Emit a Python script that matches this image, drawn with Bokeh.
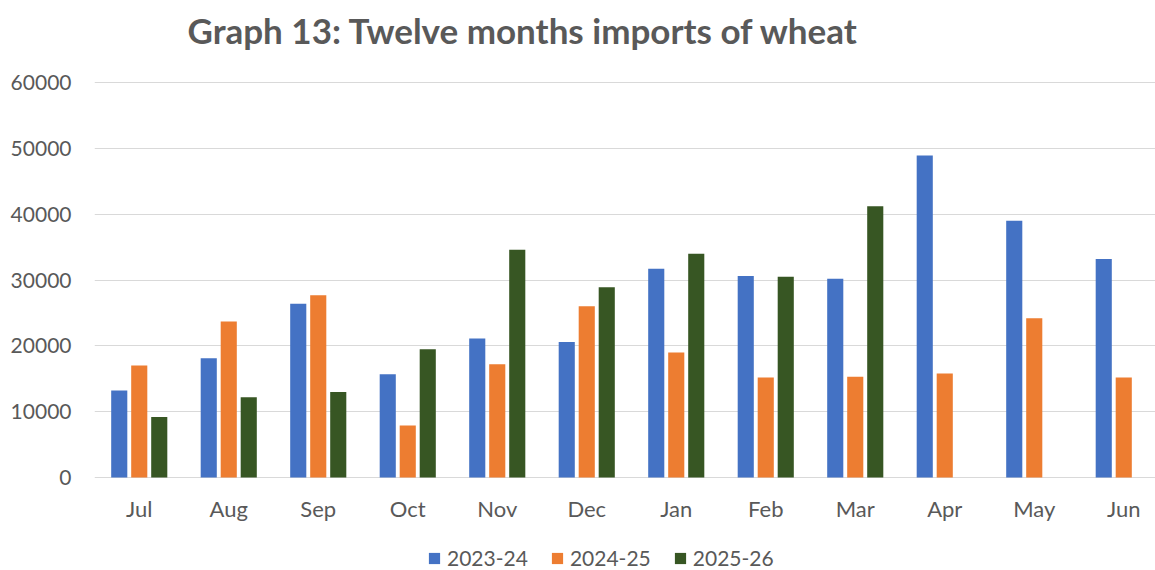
from bokeh.plotting import figure
from bokeh.models import ColumnDataSource, Range1d, FixedTicker, Legend, LegendItem
from bokeh.core.properties import value
from bokeh.transform import dodge
from bokeh.embed import file_html
from bokeh.resources import INLINE

# ---- data ----
months = ["Jul", "Aug", "Sep", "Oct", "Nov", "Dec", "Jan", "Feb", "Mar", "Apr", "May", "Jun"]
series_names = ["2023-24", "2024-25", "2025-26"]
imports_2023_24 = [13200, 18100, 26400, 15700, 21100, 20600, 31700, 30600, 30200, 48900, 39000, 33200]
imports_2024_25 = [17000, 23700, 27700, 7900, 17200, 26000, 19000, 15200, 15300, 15800, 24200, 15200]
imports_2025_26 = [9200, 12200, 13000, 19500, 34600, 28900, 34000, 30500, 41200, None, None, None]
y_ticks = [0, 10000, 20000, 30000, 40000, 50000, 60000]
title_text = "Graph 13: Twelve months imports of wheat"

colors = ["#4472C4", "#ED7D31", "#375623"]
offsets = [-0.2235, 0.0, 0.2235]
GREY = "#595959"
FONT = "Lato"

W, H = 1155, 570
LEFT = 94
UNITS_PER_PX = 60000 / 395.0          # 0 at 477px, 60000 at 82px from top
Y_TOP = 60000 + 82 * UNITS_PER_PX
Y_BOTTOM = -(H - 477) * UNITS_PER_PX

p = figure(width=W, height=H, output_backend="svg", toolbar_location=None,
           x_range=Range1d(0, (W - LEFT) / 89.5), y_range=Range1d(Y_BOTTOM, Y_TOP),
           min_border_left=LEFT, min_border_right=0, min_border_top=0, min_border_bottom=0)
p.outline_line_color = None
p.background_fill_color = "white"
p.border_fill_color = "white"
p.xaxis.visible = False

# title (drawn as text in the plot area above the 60000 line)
p.text(x=[(187 - LEFT) / 89.5], y=[60000 + (82 - 29) * UNITS_PER_PX], text=[title_text],
       text_font=value(FONT), text_font_style="bold", text_font_size="35px",
       text_color=GREY, text_align="left", text_baseline="middle")

renderers = []
for name, vals, col, off in zip(series_names, [imports_2023_24, imports_2024_25, imports_2025_26], colors, offsets):
    xs = [i + 0.5 for i, v in enumerate(vals) if v is not None]
    tops = [v for v in vals if v is not None]
    src = ColumnDataSource(dict(x=xs, top=tops))
    r = p.vbar(x=dodge("x", off, range=p.x_range), top="top", width=0.18, bottom=0,
               source=src, fill_color=col, line_color=None)
    renderers.append((name, r))

# category labels under the zero line
lab_src = ColumnDataSource(dict(x=[i + 0.5 for i in range(len(months))], label=months))
p.text(x="x", y=-(508 - 477) * UNITS_PER_PX, text="label", source=lab_src,
       text_font=value(FONT), text_font_size="22px", text_color=GREY,
       text_align="center", text_baseline="middle")

# y axis
p.yaxis.ticker = FixedTicker(ticks=y_ticks)
p.yaxis.major_label_overrides = {t: str(t) for t in y_ticks}
p.yaxis.major_tick_line_color = None
p.yaxis.minor_tick_line_color = None
p.yaxis.axis_line_color = None
p.yaxis.major_label_text_font = FONT
p.yaxis.major_label_text_font_size = "21px"
p.yaxis.major_label_text_color = GREY
p.yaxis.major_label_standoff = 17

p.xgrid.grid_line_color = None
p.ygrid.grid_line_color = "#D9D9D9"
p.ygrid.grid_line_width = 1

legend = Legend(items=[LegendItem(label=n, renderers=[r]) for n, r in renderers],
                orientation="horizontal", location=(333, 0))
legend.glyph_width = 14
legend.glyph_height = 14
legend.label_text_font = FONT
legend.label_text_font_size = "21px"
legend.label_text_color = GREY
legend.label_standoff = 6
legend.spacing = 22
legend.border_line_color = None
legend.background_fill_alpha = 0
legend.margin = 0
legend.padding = 0
p.add_layout(legend, "center")

open("out.html", "w").write(file_html(p, INLINE))
